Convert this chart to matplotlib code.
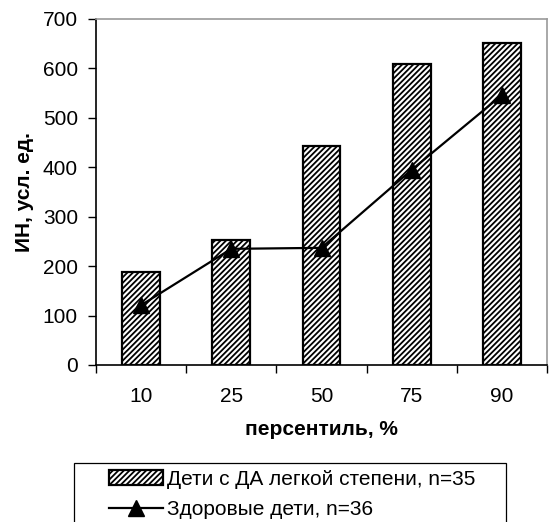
import matplotlib
matplotlib.use('Agg')
import matplotlib.pyplot as plt
from matplotlib.patches import Rectangle
import numpy as np

plt.rcParams['font.family'] = ['Liberation Sans', 'DejaVu Sans']
plt.rcParams['hatch.linewidth'] = 1.3

percentiles = ['10', '25', '50', '75', '90']
da_children = [188, 252, 444, 609, 652]
healthy = [121, 235, 237, 395, 546]

W, H = 549, 522
fig = plt.figure(figsize=(W / 100, H / 100), dpi=100)
ax = fig.add_axes([96 / W, 1 - 365 / H, (547 - 96) / W, (365 - 19) / H])

x = np.arange(len(percentiles))
bars = ax.bar(x, da_children, width=0.42, color='white', edgecolor='black',
              linewidth=1.6, hatch='//////', label='Дети с ДА легкой степени, n=35', zorder=2)
line, = ax.plot(x, healthy, color='black', linewidth=1.6, marker='^', markersize=11,
                label='Здоровые дети, n=36', zorder=3)

ax.set_xlim(-0.5, 4.5)
ax.set_ylim(0, 700)
ax.set_yticks(range(0, 701, 100))
ax.set_xticks(np.arange(-0.5, 4.6, 1.0))
ax.set_xticklabels([])
ax.set_xticks(x, minor=True)
ax.set_xticklabels(percentiles, minor=True)
ax.tick_params(axis='x', which='minor', length=0, pad=16, labelsize=15)
ax.tick_params(axis='x', which='major', length=6, direction='out', width=1)
ax.tick_params(axis='y', length=6, direction='out', width=1, labelsize=15, pad=7)

ax.spines['left'].set_color('black')
ax.spines['bottom'].set_color('black')
ax.spines['top'].set_color('#999999')
ax.spines['right'].set_color('#999999')
for s in ax.spines.values():
    s.set_linewidth(1.2)

ax.set_xlabel('персентиль, %', fontsize=15, fontweight='bold', labelpad=10)
ax.set_ylabel('ИН, усл. ед.', fontsize=15, fontweight='bold', labelpad=6)

# legend box (extends below the bottom edge, like in the original)
fig.add_artist(Rectangle((74 / W, -0.05), 432 / W, 0.05 + 1 - 463 / H,
                         transform=fig.transFigure, facecolor='white',
                         edgecolor='black', linewidth=0.9, zorder=1))
leg = fig.legend(handles=[bars, line], loc='upper left',
                 bbox_to_anchor=(109 / W, 1 - 470 / H), fontsize=15, frameon=False,
                 handlelength=2.6, handletextpad=0.2, borderpad=0, borderaxespad=0,
                 labelspacing=0.55)
leg.set_zorder(2)

fig.savefig('out.png', dpi=100)
